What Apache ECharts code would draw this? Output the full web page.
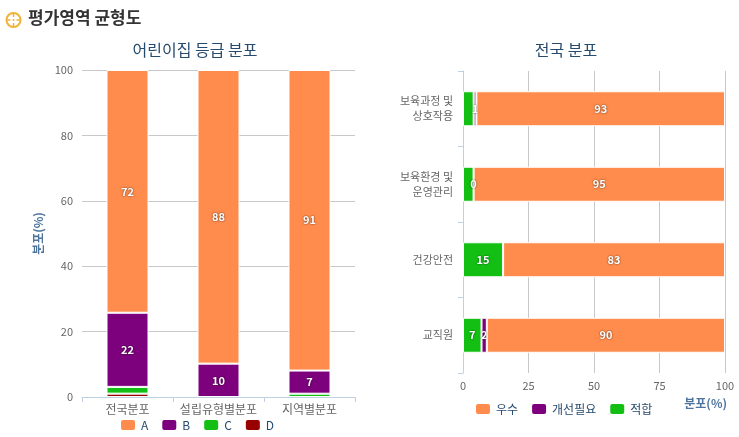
<!DOCTYPE html>
<html><head><meta charset="utf-8">
<script src="https://cdn.jsdelivr.net/npm/echarts@6/dist/echarts.min.js"></script>
<style>html,body{margin:0;padding:0;background:#fff}#c{width:739px;height:437px}</style>
</head><body><div id="c"></div>
<script>
// Left chart: 어린이집 등급 분포
const leftCategories = ['전국분포', '설립유형별분포', '지역별분포'];
const gradeA = [72, 88, 91];
const gradeB = [22, 10, 7];
const gradeC = [2, 0, 1];
const gradeD = [1, 0, 0];
const leftTicks = [0, 20, 40, 60, 80, 100];

// Right chart: 전국 분포
const rightCategories = ['보육과정 및\n상호작용', '보육환경 및\n운영관리', '건강안전', '교직원'];
const excellent = [93, 95, 83, 90];   // 우수
const needsWork = [1, 0, null, 2];    // 개선필요
const adequate = [4, 4, 15, 7];       // 적합
const rightTicks = [0, 25, 50, 75, 100];

const FONT = '"Noto Sans CJK KR", "Noto Sans", sans-serif';
const C_A = '#FF8C4C', C_B = '#7D007D', C_C = '#13BF13', C_D = '#990000';

function totals(arrs) {
  return arrs[0].map((_, i) => arrs.reduce((s, a) => s + (a[i] == null ? 0 : a[i]), 0));
}
const leftTot = totals([gradeA, gradeB, gradeC, gradeD]);
const rightTot = totals([excellent, needsWork, adequate]);

function mk(name, raw, tot, color, stack, xi, yi, showAll, barWidth, dropZero) {
  return {
    name, type: 'bar', stack, xAxisIndex: xi, yAxisIndex: yi, barWidth,
    data: raw.map((v, i) => (v == null || (dropZero && v === 0)) ? '-' : v / tot[i] * 100),
    itemStyle: { color, borderColor: '#fff', borderWidth: 1 },
    label: {
      show: true, position: 'inside', color: '#fff', fontSize: 11, fontWeight: 'bold',
      fontFamily: FONT, textShadowColor: 'rgba(0,0,0,0.7)', textShadowBlur: 2,
      formatter: p => {
        const v = raw[p.dataIndex];
        if (v == null) return '';
        if (!showAll && v < 5) return '';
        return String(v);
      }
    }
  };
}

const chart = echarts.init(document.getElementById('c'));
chart.setOption({
  animation: false,
  textStyle: { fontFamily: FONT },
  title: [
    { text: '어린이집 등급 분포', left: 190, textAlign: 'center', top: 37,
      textStyle: { color: '#274b6d', fontSize: 16, fontWeight: 'normal', fontFamily: FONT } },
    { text: '전국 분포', left: 561, textAlign: 'center', top: 37,
      textStyle: { color: '#274b6d', fontSize: 16, fontWeight: 'normal', fontFamily: FONT } }
  ],
  graphic: [
    { type: 'circle', shape: { cx: 13.5, cy: 20, r: 7 }, style: { fill: 'none', stroke: '#F2B33D', lineWidth: 2 } },
    { type: 'line', shape: { x1: 13.5, y1: 13, x2: 13.5, y2: 17 }, style: { stroke: '#F2B33D', lineWidth: 1.5 } },
    { type: 'line', shape: { x1: 13.5, y1: 23, x2: 13.5, y2: 27 }, style: { stroke: '#F2B33D', lineWidth: 1.5 } },
    { type: 'line', shape: { x1: 6.5, y1: 20, x2: 10.5, y2: 20 }, style: { stroke: '#F2B33D', lineWidth: 1.5 } },
    { type: 'line', shape: { x1: 16.5, y1: 20, x2: 20.5, y2: 20 }, style: { stroke: '#F2B33D', lineWidth: 1.5 } },
    { type: 'circle', shape: { cx: 13.5, cy: 20, r: 1 }, style: { fill: '#F2B33D' } },
    { type: 'text', left: 28, top: 9,
      style: { text: '평가영역 균형도', fill: '#333', font: 'bold 17px ' + FONT } }
  ],
  legend: [
    { data: ['A', 'B', 'C', 'D'], left: 119, top: 418, padding: 0, itemWidth: 16, itemHeight: 12, itemGap: 12,
      icon: 'roundRect', textStyle: { color: '#274b6d', fontSize: 12, fontFamily: FONT } },
    { data: ['우수', '개선필요', '적합'], left: 474, top: 402, padding: 0, itemWidth: 16, itemHeight: 12, itemGap: 12,
      icon: 'roundRect', textStyle: { color: '#274b6d', fontSize: 12, fontFamily: FONT } }
  ],
  grid: [
    { left: 82, right: 739 - 355, top: 70, bottom: 437 - 397 },
    { left: 463, right: 739 - 725, top: 71, bottom: 437 - 373 }
  ],
  xAxis: [
    { type: 'category', gridIndex: 0, data: leftCategories,
      axisLine: { lineStyle: { color: '#C0D0E0' } },
      axisTick: { show: true, length: 5, lineStyle: { color: '#C0D0E0' } },
      axisLabel: { color: '#666', fontSize: 12, margin: 6, interval: 0 } },
    { type: 'value', gridIndex: 1, min: rightTicks[0], max: rightTicks[rightTicks.length - 1], interval: 25,
      axisLine: { show: false }, axisTick: { show: false },
      splitLine: { lineStyle: { color: '#C8C8C8' } },
      axisLabel: { color: '#666', fontSize: 11, margin: 7 },
      name: '분포(%)', nameLocation: 'end', nameGap: 2,
      nameTextStyle: { color: '#4d759e', fontSize: 12, fontWeight: 'bold', align: 'right', verticalAlign: 'top', padding: [24, 0, 0, 0] } }
  ],
  yAxis: [
    { type: 'value', gridIndex: 0, min: leftTicks[0], max: leftTicks[leftTicks.length - 1], interval: 20,
      axisLine: { show: false }, axisTick: { show: false },
      splitLine: { lineStyle: { color: '#C8C8C8' } },
      axisLabel: { color: '#666', fontSize: 11, margin: 9 },
      name: '분포(%)', nameLocation: 'middle', nameGap: 38,
      nameTextStyle: { color: '#4d759e', fontSize: 12, fontWeight: 'bold' } },
    { type: 'category', gridIndex: 1, data: rightCategories, inverse: true,
      axisLine: { lineStyle: { color: '#C0D0E0' } },
      axisTick: { show: true, length: 5, lineStyle: { color: '#C0D0E0' } },
      axisLabel: { color: '#666', fontSize: 11, lineHeight: 15, margin: 10, align: 'right' } }
  ],
  series: [
    mk('D', gradeD, leftTot, C_D, 'L', 0, 0, false, 42, true),
    mk('C', gradeC, leftTot, C_C, 'L', 0, 0, false, 42, true),
    mk('B', gradeB, leftTot, C_B, 'L', 0, 0, false, 42, true),
    mk('A', gradeA, leftTot, C_A, 'L', 0, 0, false, 42, true),
    mk('적합', adequate, rightTot, C_C, 'R', 1, 1, false, 35, false),
    mk('개선필요', needsWork, rightTot, C_B, 'R', 1, 1, true, 35, false),
    mk('우수', excellent, rightTot, C_A, 'R', 1, 1, false, 35, false)
  ]
});
</script></body></html>
